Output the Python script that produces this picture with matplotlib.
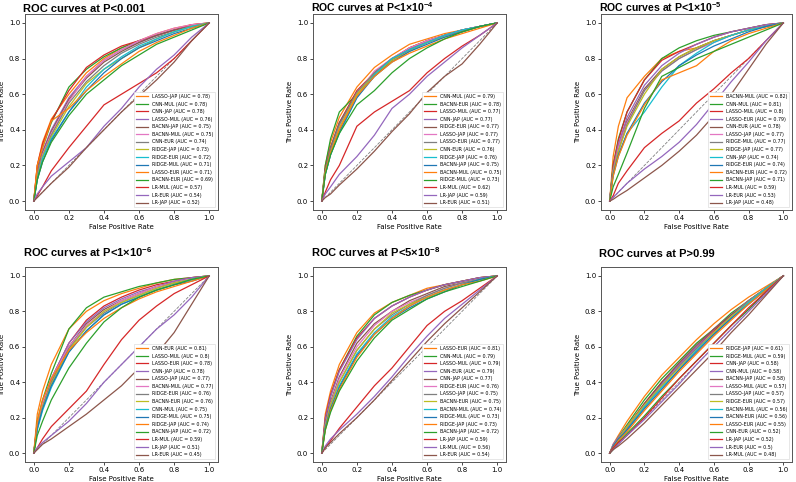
import matplotlib
matplotlib.use("Agg")
import matplotlib.pyplot as plt

plt.rcParams['mathtext.fontset'] = 'custom'
plt.rcParams['mathtext.rm'] = 'Liberation Sans:bold'
plt.rcParams['mathtext.bf'] = 'Liberation Sans:bold'

FPR = [0, 0.02, 0.05, 0.1, 0.2, 0.3, 0.4, 0.5, 0.6, 0.7, 0.8, 0.9, 1.0]

COLORS = ['tab:orange', 'tab:green', 'tab:red', 'tab:purple', 'tab:brown',
          'tab:pink', 'tab:gray', 'tab:olive', 'tab:cyan', 'tab:blue',
          'tab:orange', 'tab:green', 'tab:red', 'tab:purple', 'tab:brown']

# ---------------- Panel 1: P<0.001 ----------------
title_p1 = 'ROC curves at P<0.001'
labels_p1 = ['LASSO-JAP', 'CNN-MUL', 'CNN-JAP', 'LASSO-MUL', 'BACNN-JAP', 'BACNN-MUL',
             'CNN-EUR', 'RIDGE-JAP', 'RIDGE-EUR', 'RIDGE-MUL', 'LASSO-EUR', 'BACNN-EUR',
             'LR-MUL', 'LR-EUR', 'LR-JAP']
auc_p1 = ['0.78', '0.78', '0.78', '0.76', '0.75', '0.75', '0.74', '0.73', '0.72', '0.71',
          '0.71', '0.69', '0.57', '0.54', '0.52']
tpr_p1 = [
    [0, .20, .33, .46, .60, .72, .80, .86, .90, .94, .97, .99, 1],
    [0, .18, .30, .44, .64, .74, .81, .86, .90, .93, .96, .98, 1],
    [0, .20, .32, .45, .62, .75, .82, .87, .90, .93, .96, .99, 1],
    [0, .16, .28, .40, .58, .70, .79, .85, .89, .93, .96, .98, 1],
    [0, .15, .27, .39, .57, .69, .78, .84, .89, .93, .96, .98, 1],
    [0, .14, .26, .38, .56, .70, .79, .85, .90, .94, .97, .99, 1],
    [0, .14, .25, .37, .55, .67, .76, .83, .88, .92, .95, .98, 1],
    [0, .13, .25, .36, .53, .66, .74, .80, .86, .91, .95, .98, 1],
    [0, .12, .24, .35, .50, .64, .74, .81, .87, .91, .95, .98, 1],
    [0, .12, .22, .34, .50, .62, .72, .80, .86, .90, .94, .97, 1],
    [0, .20, .30, .45, .52, .62, .70, .77, .84, .89, .93, .97, 1],
    [0, .12, .22, .33, .48, .60, .68, .76, .82, .88, .92, .96, 1],
    [0, .03, .08, .17, .30, .42, .54, .60, .66, .72, .80, .90, 1],
    [0, .04, .08, .14, .22, .30, .42, .52, .64, .74, .82, .92, 1],
    [0, .02, .05, .10, .19, .30, .40, .50, .59, .68, .78, .90, 1],
]

# ---------------- Panel 2: P<1x10^-4 ----------------
title_p2 = r'ROC curves at P<1×10$^{-4}$'
labels_p2 = ['CNN-MUL', 'BACNN-EUR', 'LASSO-MUL', 'CNN-JAP', 'RIDGE-EUR', 'LASSO-JAP',
             'LASSO-EUR', 'CNN-EUR', 'RIDGE-JAP', 'BACNN-JAP', 'BACNN-MUL', 'RIDGE-MUL',
             'LR-MUL', 'LR-JAP', 'LR-EUR']
auc_p2 = ['0.79', '0.78', '0.77', '0.77', '0.77', '0.77', '0.77', '0.76', '0.76', '0.75',
          '0.75', '0.73', '0.62', '0.59', '0.51']
tpr_p2 = [
    [0, .20, .33, .47, .64, .75, .82, .88, .91, .94, .96, .98, 1],
    [0, .20, .35, .50, .60, .70, .79, .86, .90, .93, .96, .98, 1],
    [0, .18, .30, .44, .62, .72, .80, .86, .90, .93, .95, .98, 1],
    [0, .17, .30, .43, .60, .72, .80, .85, .90, .93, .96, .98, 1],
    [0, .18, .30, .44, .60, .72, .79, .85, .89, .93, .96, .98, 1],
    [0, .16, .28, .42, .60, .73, .80, .86, .90, .93, .96, .98, 1],
    [0, .17, .29, .43, .61, .72, .80, .85, .89, .93, .96, .98, 1],
    [0, .16, .27, .41, .60, .71, .79, .84, .89, .92, .95, .98, 1],
    [0, .15, .26, .38, .58, .71, .80, .85, .89, .93, .96, .98, 1],
    [0, .15, .26, .39, .58, .70, .78, .84, .88, .92, .95, .98, 1],
    [0, .16, .27, .40, .59, .70, .78, .83, .87, .91, .94, .97, 1],
    [0, .15, .26, .38, .54, .62, .72, .80, .86, .91, .95, .98, 1],
    [0, .05, .12, .20, .42, .50, .56, .62, .72, .80, .87, .93, 1],
    [0, .04, .08, .15, .25, .37, .52, .60, .70, .78, .86, .93, 1],
    [0, .02, .04, .09, .18, .28, .39, .49, .61, .70, .77, .88, 1],
]

# ---------------- Panel 3: P<1x10^-5 ----------------
title_p3 = r'ROC curves at P<1×10$^{-5}$'
labels_p3 = ['BACNN-MUL', 'CNN-MUL', 'LASSO-MUL', 'LASSO-EUR', 'CNN-EUR', 'LASSO-JAP',
             'RIDGE-MUL', 'RIDGE-JAP', 'CNN-JAP', 'RIDGE-EUR', 'BACNN-EUR', 'BACNN-JAP',
             'LR-MUL', 'LR-EUR', 'LR-JAP']
auc_p3 = ['0.82', '0.81', '0.8', '0.79', '0.78', '0.77', '0.77', '0.77', '0.74', '0.74',
          '0.72', '0.71', '0.59', '0.53', '0.48']
tpr_p3 = [
    [0, .25, .42, .58, .70, .80, .84, .86, .90, .93, .96, .98, 1],
    [0, .20, .35, .50, .68, .80, .86, .90, .93, .95, .97, .99, 1],
    [0, .20, .34, .50, .68, .79, .84, .88, .92, .95, .97, .99, 1],
    [0, .18, .32, .47, .65, .76, .83, .88, .92, .95, .97, .99, 1],
    [0, .18, .30, .45, .63, .74, .81, .86, .90, .93, .96, .98, 1],
    [0, .17, .30, .44, .62, .73, .80, .85, .89, .93, .96, .98, 1],
    [0, .16, .28, .43, .62, .73, .80, .85, .90, .93, .96, .98, 1],
    [0, .16, .28, .42, .60, .74, .81, .86, .90, .93, .96, .98, 1],
    [0, .14, .25, .38, .50, .64, .76, .83, .89, .93, .96, .98, 1],
    [0, .15, .26, .38, .55, .67, .76, .82, .87, .91, .95, .98, 1],
    [0, .14, .25, .37, .54, .68, .72, .76, .84, .90, .94, .97, 1],
    [0, .08, .15, .27, .52, .70, .75, .80, .84, .88, .92, .96, 1],
    [0, .03, .10, .17, .30, .38, .45, .55, .63, .72, .80, .90, 1],
    [0, .02, .05, .10, .18, .25, .33, .43, .55, .67, .78, .90, 1],
    [0, .01, .03, .06, .13, .20, .28, .37, .48, .60, .74, .88, 1],
]

# ---------------- Panel 4: P<1x10^-6 ----------------
title_p4 = r'ROC curves at P<1×10$^{-6}$'
labels_p4 = ['CNN-EUR', 'LASSO-MUL', 'LASSO-EUR', 'CNN-JAP', 'LASSO-JAP', 'BACNN-MUL',
             'RIDGE-EUR', 'BACNN-EUR', 'CNN-MUL', 'RIDGE-MUL', 'RIDGE-JAP', 'BACNN-JAP',
             'LR-MUL', 'LR-JAP', 'LR-EUR']
auc_p4 = ['0.81', '0.8', '0.78', '0.78', '0.77', '0.77', '0.76', '0.76', '0.75', '0.75',
          '0.74', '0.72', '0.59', '0.51', '0.45']
tpr_p4 = [
    [0, .22, .35, .50, .70, .80, .86, .90, .93, .96, .98, .99, 1],
    [0, .18, .30, .45, .70, .82, .88, .91, .94, .96, .98, .99, 1],
    [0, .16, .28, .42, .62, .75, .83, .88, .92, .95, .97, .99, 1],
    [0, .15, .27, .42, .62, .74, .82, .87, .91, .94, .97, .99, 1],
    [0, .15, .27, .40, .60, .73, .81, .86, .90, .94, .96, .98, 1],
    [0, .16, .28, .42, .60, .72, .80, .86, .90, .94, .96, .98, 1],
    [0, .15, .26, .40, .59, .71, .79, .85, .89, .93, .96, .98, 1],
    [0, .14, .26, .39, .58, .71, .80, .85, .89, .93, .96, .98, 1],
    [0, .13, .24, .37, .57, .69, .78, .84, .88, .92, .95, .98, 1],
    [0, .14, .25, .38, .57, .69, .78, .84, .88, .92, .95, .97, 1],
    [0, .18, .30, .42, .58, .68, .76, .82, .87, .91, .94, .97, 1],
    [0, .10, .18, .30, .48, .62, .74, .82, .88, .92, .95, .98, 1],
    [0, .03, .08, .15, .25, .35, .50, .64, .75, .83, .90, .95, 1],
    [0, .03, .06, .10, .18, .28, .40, .50, .60, .70, .78, .88, 1],
    [0, .02, .05, .08, .15, .22, .30, .38, .48, .56, .68, .84, 1],
]

# ---------------- Panel 5: P<5x10^-8 ----------------
title_p5 = r'ROC curves at P<5×10$^{-8}$'
labels_p5 = ['LASSO-EUR', 'CNN-MUL', 'LASSO-MUL', 'CNN-EUR', 'CNN-JAP', 'RIDGE-EUR',
             'LASSO-JAP', 'BACNN-EUR', 'BACNN-MUL', 'RIDGE-MUL', 'RIDGE-JAP', 'BACNN-JAP',
             'LR-JAP', 'LR-MUL', 'LR-EUR']
auc_p5 = ['0.81', '0.79', '0.79', '0.79', '0.77', '0.76', '0.75', '0.75', '0.74', '0.73',
          '0.73', '0.72', '0.59', '0.56', '0.54']
tpr_p5 = [
    [0, .22, .35, .50, .68, .79, .85, .89, .93, .95, .97, .99, 1],
    [0, .18, .32, .47, .66, .78, .85, .89, .92, .95, .97, .99, 1],
    [0, .20, .33, .47, .65, .76, .83, .88, .92, .95, .97, .99, 1],
    [0, .19, .32, .46, .64, .76, .83, .88, .92, .95, .97, .99, 1],
    [0, .17, .29, .43, .62, .73, .80, .86, .90, .94, .96, .98, 1],
    [0, .16, .28, .42, .60, .72, .80, .85, .89, .93, .96, .98, 1],
    [0, .15, .27, .40, .58, .70, .78, .84, .89, .93, .96, .98, 1],
    [0, .15, .27, .40, .58, .70, .79, .84, .88, .92, .95, .98, 1],
    [0, .14, .25, .38, .56, .68, .77, .83, .88, .92, .95, .98, 1],
    [0, .14, .25, .37, .55, .67, .76, .82, .87, .91, .95, .98, 1],
    [0, .13, .24, .36, .54, .67, .76, .83, .88, .92, .95, .97, 1],
    [0, .13, .23, .35, .52, .65, .75, .81, .87, .91, .94, .97, 1],
    [0, .03, .07, .14, .26, .38, .48, .60, .72, .80, .86, .93, 1],
    [0, .04, .08, .13, .22, .32, .43, .55, .66, .76, .84, .92, 1],
    [0, .03, .06, .11, .20, .30, .41, .52, .63, .73, .82, .91, 1],
]

# ---------------- Panel 6: P>0.99 ----------------
title_p6 = 'ROC curves at P>0.99'
labels_p6 = ['RIDGE-JAP', 'RIDGE-MUL', 'CNN-JAP', 'CNN-MUL', 'BACNN-JAP', 'LASSO-MUL',
             'LASSO-JAP', 'RIDGE-EUR', 'BACNN-MUL', 'BACNN-EUR', 'LASSO-EUR', 'CNN-EUR',
             'LR-JAP', 'LR-EUR', 'LR-MUL']
auc_p6 = ['0.61', '0.59', '0.58', '0.58', '0.58', '0.57', '0.57', '0.57', '0.56', '0.56',
          '0.55', '0.52', '0.52', '0.5', '0.48']
tpr_p6 = [
    [0, .05, .10, .18, .32, .44, .54, .64, .73, .81, .88, .94, 1],
    [0, .04, .09, .16, .30, .42, .52, .62, .70, .79, .86, .93, 1],
    [0, .04, .08, .15, .28, .40, .50, .60, .69, .78, .86, .93, 1],
    [0, .05, .09, .15, .27, .39, .50, .60, .70, .78, .86, .93, 1],
    [0, .03, .07, .14, .28, .40, .51, .61, .70, .78, .85, .93, 1],
    [0, .04, .08, .14, .27, .38, .49, .59, .68, .77, .85, .93, 1],
    [0, .03, .07, .14, .26, .38, .49, .59, .68, .77, .86, .93, 1],
    [0, .04, .08, .15, .27, .38, .48, .58, .68, .77, .85, .93, 1],
    [0, .03, .07, .13, .26, .37, .47, .58, .67, .76, .85, .93, 1],
    [0, .04, .08, .13, .25, .36, .47, .57, .67, .76, .84, .92, 1],
    [0, .03, .07, .12, .24, .35, .46, .56, .66, .75, .84, .92, 1],
    [0, .02, .06, .11, .21, .32, .42, .52, .62, .72, .81, .91, 1],
    [0, .03, .06, .10, .20, .31, .42, .52, .62, .72, .82, .91, 1],
    [0, .02, .05, .10, .19, .29, .39, .50, .60, .70, .80, .90, 1],
    [0, .02, .04, .08, .17, .27, .37, .47, .57, .68, .78, .89, 1],
]

W, H = 796, 482
fig = plt.figure(figsize=(W / 100, H / 100), dpi=100)

# axes boxes in pixels: (left, top, right, bottom)
boxes = [(25, 14, 218, 210), (313, 14, 506, 210), (601, 14, 792, 210),
         (25, 267, 218, 462), (313, 267, 506, 462), (601, 267, 792, 462)]
panels = [(title_p1, labels_p1, auc_p1, tpr_p1), (title_p2, labels_p2, auc_p2, tpr_p2),
          (title_p3, labels_p3, auc_p3, tpr_p3), (title_p4, labels_p4, auc_p4, tpr_p4),
          (title_p5, labels_p5, auc_p5, tpr_p5), (title_p6, labels_p6, auc_p6, tpr_p6)]

for i, ((l, t, r, b), (title, labels, aucs, tprs)) in enumerate(zip(boxes, panels)):
    ax = fig.add_axes([l / W, 1 - b / H, (r - l) / W, (b - t) / H])
    ax.plot([0, 1], [0, 1], color='gray', ls='--', lw=0.6, zorder=1)
    for k, (lab, a, tp) in enumerate(zip(labels, aucs, tprs)):
        ax.plot(FPR, tp, color=COLORS[k], lw=0.9, label=f'{lab} (AUC = {a})')
    ax.set_xlim(-0.05, 1.05)
    ax.set_ylim(-0.05, 1.05)
    ax.set_xticks([0, 0.2, 0.4, 0.6, 0.8, 1.0])
    ax.set_yticks([0, 0.2, 0.4, 0.6, 0.8, 1.0])
    ax.tick_params(labelsize=5, length=2, width=0.5, pad=1.5)
    for s in ax.spines.values():
        s.set_linewidth(0.7)
        s.set_color('#555555')
    ax.set_xlabel('False Positive Rate', fontsize=5, labelpad=2)
    ax.set_ylabel('True Positive Rate', fontsize=5, labelpad=3)
    pad = 1 if i < 3 else 7
    fs = 8 if i not in (1, 2) else 7.6
    ax.set_title(title, loc='left', x=-0.01, pad=pad, fontsize=fs,
                 fontweight='bold', family='Liberation Sans')
    leg = ax.legend(loc='lower right', fontsize=3.4, handlelength=2.6,
                    labelspacing=0.55, borderaxespad=0.6, fancybox=False,
                    framealpha=1, edgecolor='#dddddd')
    leg.get_frame().set_linewidth(0.5)

fig.savefig('out.png', dpi=100)
